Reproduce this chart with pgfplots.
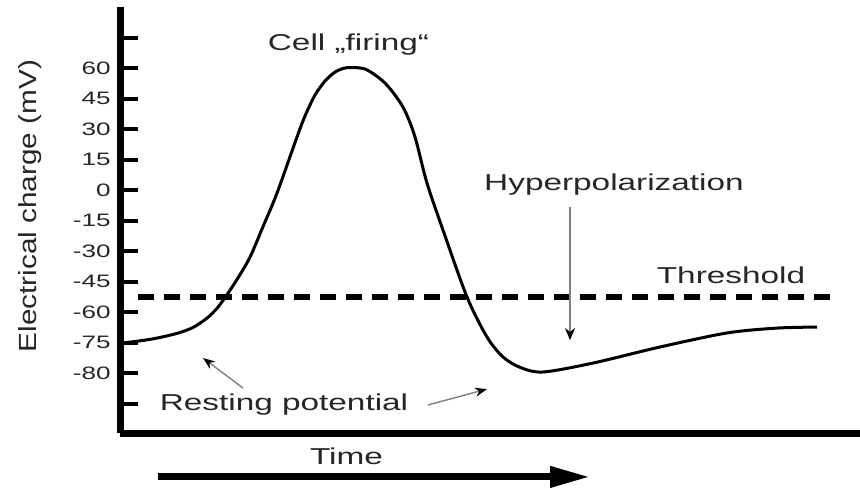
\documentclass[border=0pt]{standalone}
\usepackage{pgfplots}
\pgfplotsset{compat=1.18}
\usepackage{fontspec}
\setmainfont{Liberation Sans}
\newfontfamily\wide[FakeStretch=1.45]{Liberation Sans}
\newfontfamily\ylab[FakeStretch=1.2]{Liberation Sans}
\usetikzlibrary{arrows.meta}
\begin{document}
\begin{tikzpicture}
\useasboundingbox (0,0) rectangle (430pt,244pt);
\begin{axis}[
  at={(60pt,27.5pt)}, anchor=south west,
  scale only axis, width=370pt, height=213pt,
  xmin=120, xmax=860, ymin=-119.5, ymax=90,
  axis x line=bottom, axis y line=left,
  axis line style={-, line width=3.5pt, black},
  xtick=\empty,
  ytick={75,60,45,30,15,0,-15,-30,-45,-60,-75,-90,-105},
  yticklabels={,60,45,30,15,0,-15,-30,-45,-60,-75,-80,},
  tick align=inside,
  major tick length=9pt,
  major tick style={line width=2pt, black},
  yticklabel style={font=\wide\fontsize{9}{9}\selectfont, text=black!85, anchor=east, inner sep=0pt, xshift=-4.5pt},
  clip=false,
]
% threshold
\addplot[black, line width=3pt, dash pattern=on 8pt off 5pt] coordinates {(138,-52.6) (833,-52.6)};
% action potential
\addplot[black, line width=1.5pt, smooth, tension=0.5] coordinates {
(120,-75.3) (130,-74.8) (153,-73.2) (177,-70.5) (193,-67.6) (207,-63.0)
(217,-58.2) (226,-52.2) (237,-44.0) (250,-33.0) (263,-18.0) (277,-1.5) (297,26.1)
(305,36.4) (315,46.7) (325,53.6) (335,58.0) (345,60) (355,60.2)
(365,59.5) (375,56.6) (385,52.6) (395,46.7) (405,38.9) (415,26.1)
(427,3.4) (443,-19.7) (467,-52.6) (487,-72.3) (503,-82.1) (520,-87.2)
(543,-89.5) (593,-85.1) (660,-77.2) (727,-70.3) (777,-67.9) (817,-67.4)};
% labels
\node[font=\wide\fontsize{11.5}{11.5}\selectfont, text=black!85, anchor=base] at (axis cs:348.5,68.85) {Cell „firing“};
\node[font=\wide\fontsize{11.5}{11.5}\selectfont, text=black!85, anchor=base] at (axis cs:614,0) {Hyperpolarization};
\node[font=\wide\fontsize{11.5}{11.5}\selectfont, text=black!85, anchor=base] at (axis cs:731,-46.2) {Threshold};
\node[font=\wide\fontsize{11.5}{11.5}\selectfont, text=black!85, anchor=base] at (axis cs:284,-108.2) {Resting potential};
\node[font=\wide\fontsize{11.5}{11.5}\selectfont, text=black!85, anchor=base] at (axis cs:346.5,-135.2) {Time};
\node[font=\ylab\fontsize{12.4}{12.4}\selectfont, text=black!85, rotate=90] at (axis cs:30,-7.9) {Electrical charge (mV)};
% arrows
\draw[gray, line width=0.7pt, -{Stealth[length=6pt,width=5pt,black]}] (axis cs:570,-8.4) -- (axis cs:570,-73.8);
\draw[gray, line width=0.7pt, -{Stealth[length=6pt,width=4.5pt,black]}] (axis cs:243,-97.4) -- (axis cs:203,-82.6);
\draw[gray, line width=0.7pt, -{Stealth[length=6pt,width=4.5pt,black]}] (axis cs:428,-105.7) -- (axis cs:487,-97.9);
\draw[black, line width=3.5pt, -{Triangle[length=20pt,width=10pt]}] (axis cs:158,-141.1) -- (axis cs:590,-141.1);
\end{axis}
\end{tikzpicture}
\end{document}
